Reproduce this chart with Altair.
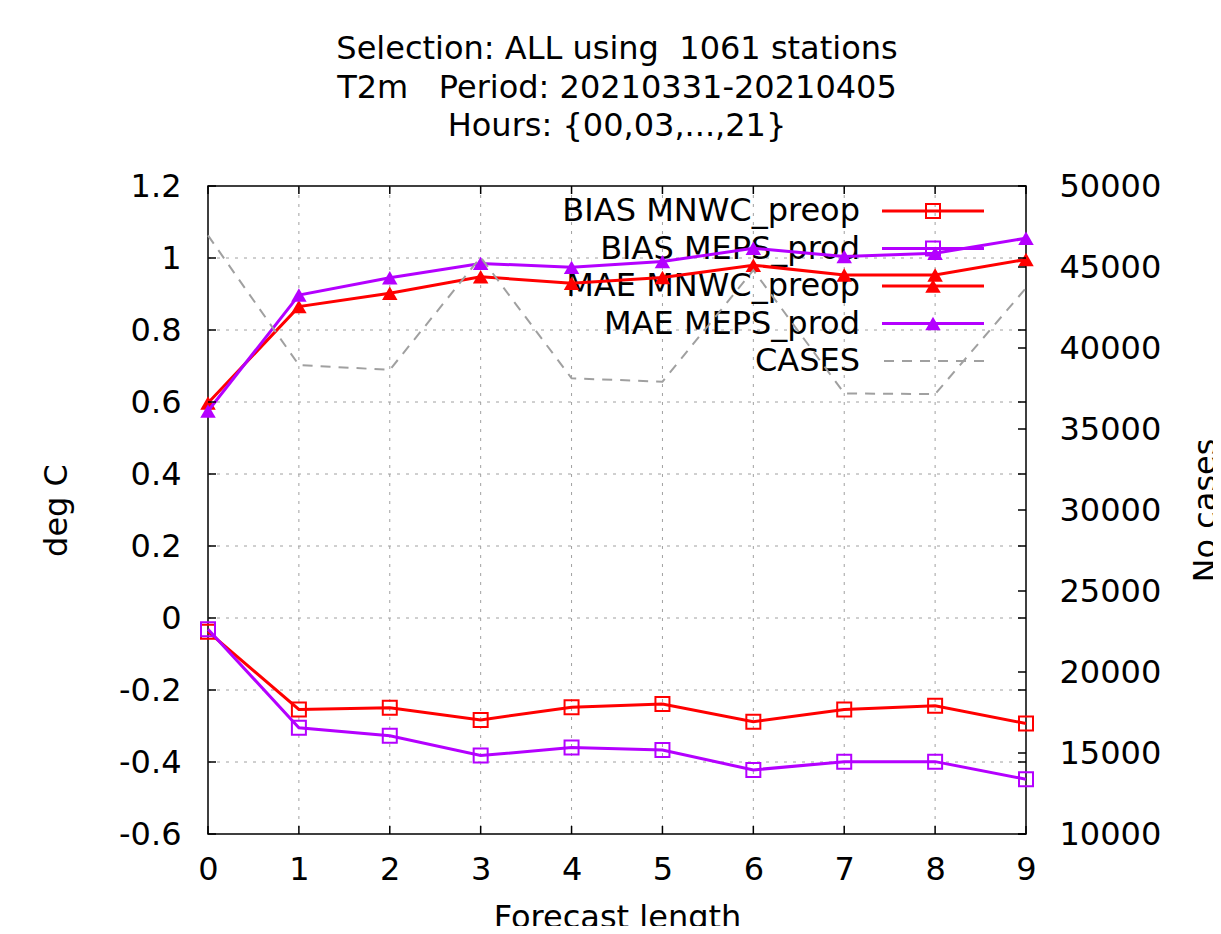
import altair as alt
import pandas as pd

# ---------------- data ----------------
lead = [0, 1, 2, 3, 4, 5, 6, 7, 8, 9]
bias_mnwc = [-0.038, -0.254, -0.249, -0.283, -0.248, -0.239, -0.288, -0.254, -0.244, -0.293]
bias_meps = [-0.031, -0.305, -0.327, -0.382, -0.360, -0.367, -0.422, -0.399, -0.399, -0.448]
mae_mnwc = [0.597, 0.865, 0.902, 0.948, 0.930, 0.946, 0.980, 0.953, 0.953, 0.996]
mae_meps = [0.575, 0.897, 0.945, 0.985, 0.974, 0.990, 1.027, 1.004, 1.013, 1.055]
cases = [46950, 38950, 38650, 45600, 38130, 37920, 44800, 37200, 37150, 43700]

series_names = ["BIAS MNWC_preop", "BIAS MEPS_prod", "MAE MNWC_preop", "MAE MEPS_prod", "CASES"]
title_lines = ["Selection: ALL using\u00a0 1061 stations",
               "T2m\u00a0 \u00a0Period: 20210331-20210405",
               "Hours: {00,03,...,21}"]

x_ticks = [0, 1, 2, 3, 4, 5, 6, 7, 8, 9]
y_ticks = [-0.6, -0.4, -0.2, 0, 0.2, 0.4, 0.6, 0.8, 1, 1.2]
y2_ticks = [10000, 15000, 20000, 25000, 30000, 35000, 40000, 45000, 50000]
x_grid = [1, 2, 3, 4, 5, 6, 7, 8]
y_grid = [-0.4, -0.2, 0, 0.2, 0.4, 0.6, 0.8, 1]

RED = "#ff0000"
PURPLE = "#b400ff"
GRAY = "#a0a0a0"
FONT = "DejaVu Sans"
FS = 32
W, H = 818, 648
SQ = 196
TRI = 240

xs = alt.Scale(domain=[0, 9], nice=False, zero=False)
ys = alt.Scale(domain=[-0.6, 1.2], nice=False, zero=False)
y2s = alt.Scale(domain=[10000, 50000], nice=False, zero=False)

df = pd.DataFrame({"lead": lead, "bias_mnwc": bias_mnwc, "bias_meps": bias_meps,
                   "mae_mnwc": mae_mnwc, "mae_meps": mae_meps, "cases": cases})

x_axis = alt.Axis(values=x_ticks, ticks=False, domain=False, grid=False, labelFont=FONT,
                  labelFontSize=FS, labelColor="black", labelPadding=20, labelAngle=0,
                  labelFlush=False, labelExpr="'' + datum.value",
                  title="Forecast length", titleFont=FONT, titleFontSize=FS,
                  titleFontWeight="normal", titleColor="black", titlePadding=17)
y_axis = alt.Axis(values=y_ticks, ticks=False, domain=False, grid=False, labelFont=FONT,
                  labelFontSize=FS, labelColor="black", labelPadding=27, labelFlush=False,
                  labelExpr="'' + datum.value",
                  title="deg C", titleFont=FONT, titleFontSize=FS, titleFontWeight="normal",
                  titleColor="black", titlePadding=45)
y2_axis = alt.Axis(values=y2_ticks, orient="right", ticks=False, domain=False, grid=False,
                   labelFont=FONT, labelFontSize=FS, labelColor="black", labelPadding=33,
                   labelFlush=False, format="d", title="No cases", titleFont=FONT,
                   titleFontSize=FS, titleFontWeight="normal", titleColor="black",
                   titlePadding=62, titleAngle=270)

base = alt.Chart(df)

# invisible carrier of the axes (first layer so its axis settings win)
axis_carrier = base.mark_point(opacity=0).encode(
    x=alt.X("lead:Q", scale=xs, axis=x_axis),
    y=alt.Y("bias_mnwc:Q", scale=ys, axis=y_axis))

# grid
gx = alt.Chart(pd.DataFrame({"g": x_grid})).mark_rule(
    color=GRAY, strokeWidth=1, strokeDash=[3, 6]).encode(
    x=alt.X("g:Q", scale=xs), y=alt.value(0), y2=alt.value(H))
gy = alt.Chart(pd.DataFrame({"g": y_grid})).mark_rule(
    color=GRAY, strokeWidth=1, strokeDash=[3, 6]).encode(
    y=alt.Y("g:Q", scale=ys), x=alt.value(0), x2=alt.value(W))

# inward ticks
tick_x_bottom = alt.Chart(pd.DataFrame({"t": x_ticks})).mark_rule(color="black", strokeWidth=1.5).encode(
    x=alt.X("t:Q", scale=xs), y=alt.value(H - 8), y2=alt.value(H))
tick_x_top = alt.Chart(pd.DataFrame({"t": x_ticks})).mark_rule(color="black", strokeWidth=1.5).encode(
    x=alt.X("t:Q", scale=xs), y=alt.value(0), y2=alt.value(8))
tick_y_left = alt.Chart(pd.DataFrame({"t": y_ticks})).mark_rule(color="black", strokeWidth=1.5).encode(
    y=alt.Y("t:Q", scale=ys), x=alt.value(0), x2=alt.value(8))
tick_y_right = alt.Chart(pd.DataFrame({"t": y_ticks})).mark_rule(color="black", strokeWidth=1.5).encode(
    y=alt.Y("t:Q", scale=ys), x=alt.value(W - 8), x2=alt.value(W))

# legend (text under the data lines)
leg_y = [25, 62.5, 100, 137.5, 175]
leg_layers = []
for i, name in enumerate(series_names):
    leg_layers.append(
        alt.Chart(pd.DataFrame({"lab": [name]})).mark_text(
            align="right", baseline="middle", font=FONT, fontSize=FS, color="black").encode(
            text="lab:N", x=alt.value(652), y=alt.value(leg_y[i])))

leg_colors = [RED, PURPLE, RED, PURPLE]
leg_shapes = ["square", "square", "triangle-up", "triangle-up"]
leg_filled = [False, False, True, True]
leg_marks = []
for i in range(4):
    d = pd.DataFrame({"lab": [series_names[i]]})
    leg_marks.append(alt.Chart(d).mark_rule(color=leg_colors[i], strokeWidth=3).encode(
        x=alt.value(674), x2=alt.value(776), y=alt.value(leg_y[i])))
    leg_marks.append(alt.Chart(d).mark_point(
        shape=leg_shapes[i], filled=leg_filled[i], color=leg_colors[i],
        size=SQ if leg_shapes[i] == "square" else TRI, strokeWidth=2, opacity=1).encode(
        x=alt.value(725), y=alt.value(leg_y[i])))
leg_cases = alt.Chart(pd.DataFrame({"lab": ["CASES"]})).mark_rule(
    color=GRAY, strokeWidth=2, strokeDash=[10, 8]).encode(
    x=alt.value(676), x2=alt.value(776), y=alt.value(leg_y[4]))


def series(field, color, shape, filled):
    enc = dict(x=alt.X("lead:Q", scale=xs), y=alt.Y(f"{field}:Q", scale=ys))
    line = base.mark_line(color=color, strokeWidth=3).encode(**enc)
    pts = base.mark_point(shape=shape, filled=filled, color=color,
                          size=SQ if shape == "square" else TRI, strokeWidth=2,
                          opacity=1).encode(**enc)
    return [line, pts]


data_layers = []
data_layers += series("bias_mnwc", RED, "square", False)
data_layers += series("bias_meps", PURPLE, "square", False)
data_layers += series("mae_mnwc", RED, "triangle-up", True)
data_layers += series("mae_meps", PURPLE, "triangle-up", True)

left = alt.layer(axis_carrier, gx, gy, *leg_layers, *leg_marks, leg_cases, *data_layers,
                 tick_x_bottom, tick_x_top, tick_y_left, tick_y_right)

cases_line = base.mark_line(color=GRAY, strokeWidth=2, strokeDash=[10, 8]).encode(
    x=alt.X("lead:Q", scale=xs),
    y=alt.Y("cases:Q", scale=y2s, axis=y2_axis))
tick_y2 = alt.Chart(pd.DataFrame({"t": y2_ticks})).mark_rule(color="black", strokeWidth=1.5).encode(
    y=alt.Y("t:Q", scale=y2s), x=alt.value(W - 8), x2=alt.value(W))
right = alt.layer(cases_line, tick_y2)

chart = alt.layer(left, right).resolve_scale(y="independent").properties(
    width=W, height=H, background="white",
    title=alt.TitleParams(text=title_lines, font=FONT, fontSize=FS, fontWeight="normal",
                          color="black", lineHeight=38.5, anchor="middle", offset=27),
    autosize=alt.AutoSizeParams(type="none"),
    padding={"left": 200, "top": 178, "right": 187, "bottom": 92},
).configure_view(stroke="black", strokeWidth=1.5)

chart.save("out.html", embed_options={"renderer": "svg", "actions": False})
